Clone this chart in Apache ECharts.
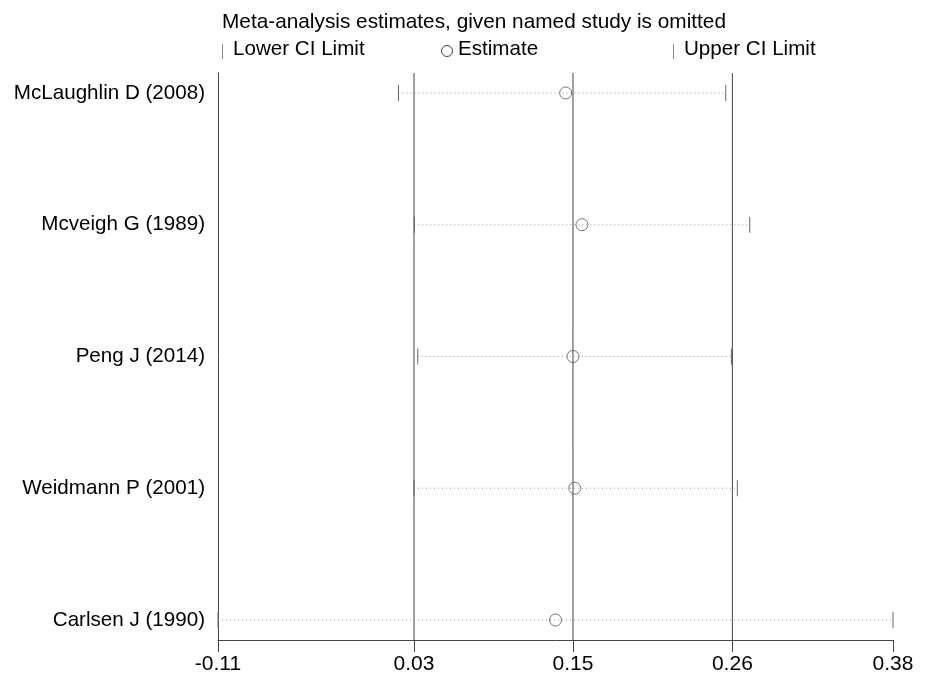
<!DOCTYPE html>
<html>
<head>
<meta charset="utf-8">
<script src="https://cdn.jsdelivr.net/npm/echarts@6/dist/echarts.min.js"></script>
<style>html,body{margin:0;padding:0;background:#fff}#c{width:933px;height:677px}</style>
</head>
<body>
<div id="c"></div>
<script>
const studies = ['McLaughlin D (2008)', 'Mcveigh G (1989)', 'Peng J (2014)', 'Weidmann P (2001)', 'Carlsen J (1990)'];
const lowerCI = [0.021, 0.0325, 0.035, 0.0323, -0.11];
const estimate = [0.1424, 0.1542, 0.1477, 0.149, 0.135];
const upperCI = [0.2586, 0.276, 0.2627, 0.267, 0.38];
const tickValues = [-0.11, 0.0323, 0.1477, 0.2634, 0.38];
const tickLabels = ['-0.11', '0.03', '0.15', '0.26', '0.38'];
const refLines = [0.0323, 0.1477, 0.2634];

const FONT = 'Liberation Sans, Arial, sans-serif';
const chart = echarts.init(document.getElementById('c'));
const rows = studies.map((s, i) => [lowerCI[i], upperCI[i], i + 1]);

chart.setOption({
  animation: false,
  backgroundColor: '#fff',
  grid: { left: 218, right: 40, top: 73, bottom: 37 },
  xAxis: {
    type: 'value', min: -0.11, max: 0.38,
    axisLine: { show: true, onZero: false, lineStyle: { color: '#444', width: 1 } },
    axisTick: { show: true, length: 12, customValues: tickValues, lineStyle: { color: '#444' } },
    axisLabel: {
      customValues: tickValues, margin: 14,
      fontFamily: FONT, fontSize: 21, color: '#000',
      formatter: v => { const k = tickValues.findIndex(t => Math.abs(t - v) < 1e-6); return k >= 0 ? tickLabels[k] : ''; }
    },
    splitLine: { show: false }
  },
  yAxis: {
    type: 'value', inverse: true, min: 0.848, max: 5.152,
    axisLine: { show: true, onZero: false, lineStyle: { color: '#444', width: 1 } },
    axisTick: { show: false },
    axisLabel: {
      customValues: [1, 2, 3, 4, 5], margin: 13,
      fontFamily: FONT, fontSize: 20.6, color: '#000',
      formatter: v => studies[Math.round(v) - 1] || ''
    },
    splitLine: { show: false }
  },
  graphic: [
    { type: 'text', left: 222, top: 12, style: { text: 'Meta-analysis estimates, given named study is omitted', font: '20.8px ' + FONT, fill: '#000' } },
    { type: 'line', shape: { x1: 222.5, y1: 44, x2: 222.5, y2: 59 }, style: { stroke: '#888', lineWidth: 1 } },
    { type: 'text', left: 233, top: 39, style: { text: 'Lower CI Limit', font: '20.6px ' + FONT, fill: '#000' } },
    { type: 'circle', shape: { cx: 447, cy: 51, r: 5.5 }, style: { fill: '#fff', stroke: '#444', lineWidth: 1 } },
    { type: 'text', left: 458, top: 39, style: { text: 'Estimate', font: '20.6px ' + FONT, fill: '#000' } },
    { type: 'line', shape: { x1: 673.5, y1: 44, x2: 673.5, y2: 59 }, style: { stroke: '#888', lineWidth: 1 } },
    { type: 'text', left: 684, top: 39, style: { text: 'Upper CI Limit', font: '20.6px ' + FONT, fill: '#000' } }
  ],
  series: [
    {
      type: 'custom',
      data: refLines.map(v => [v]),
      encode: { x: 0 },
      silent: true,
      renderItem: (params, api) => {
        const cs = params.coordSys;
        const x = api.coord([api.value(0), 1])[0];
        return { type: 'line', shape: { x1: x, y1: cs.y, x2: x, y2: cs.y + cs.height }, style: { stroke: '#444', lineWidth: 1 } };
      },
      z: 1
    },
    {
      type: 'custom',
      data: rows,
      encode: { x: [0, 1], y: 2 },
      renderItem: (params, api) => {
        const a = api.coord([api.value(0), api.value(2)]);
        const b = api.coord([api.value(1), api.value(2)]);
        return {
          type: 'group',
          children: [
            { type: 'line', shape: { x1: a[0], y1: a[1], x2: b[0], y2: b[1] }, style: { stroke: '#999', lineWidth: 1, lineDash: [1, 3] } },
            { type: 'line', shape: { x1: a[0], y1: a[1] - 8, x2: a[0], y2: a[1] + 8 }, style: { stroke: '#666', lineWidth: 1 } },
            { type: 'line', shape: { x1: b[0], y1: b[1] - 8, x2: b[0], y2: b[1] + 8 }, style: { stroke: '#666', lineWidth: 1 } }
          ]
        };
      },
      z: 2
    },
    {
      type: 'scatter',
      data: estimate.map((e, i) => [e, i + 1]),
      symbol: 'circle', symbolSize: 12,
      itemStyle: { color: 'rgba(255,255,255,0)', borderColor: '#555', borderWidth: 1 },
      z: 5
    }
  ]
});
</script>
</body>
</html>
